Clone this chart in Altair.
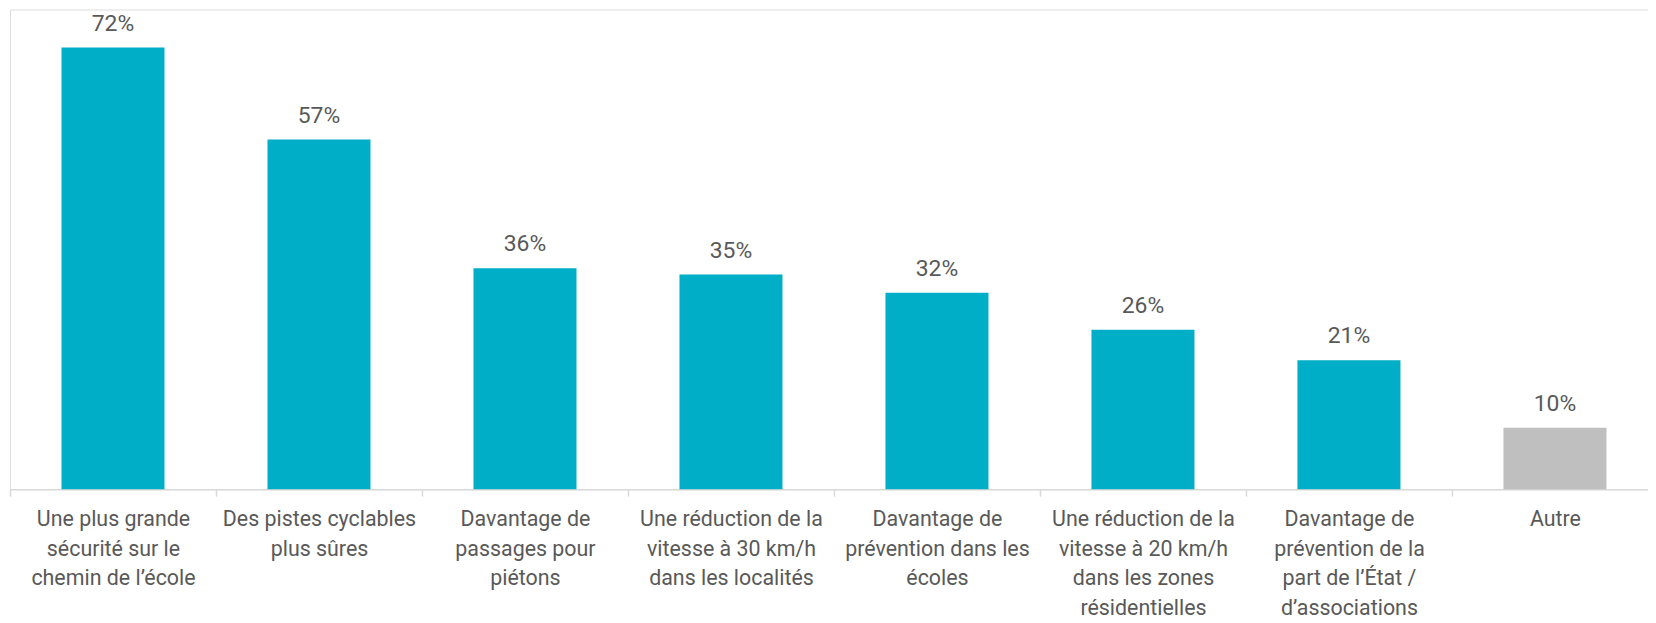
import altair as alt
import pandas as pd

categories = [
    "Une plus grande|sécurité sur le|chemin de l’école",
    "Des pistes cyclables|plus sûres",
    "Davantage de|passages pour|piétons",
    "Une réduction de la|vitesse à 30 km/h|dans les localités",
    "Davantage de|prévention dans les|écoles",
    "Une réduction de la|vitesse à 20 km/h|dans les zones|résidentielles",
    "Davantage de|prévention de la|part de l’État /|d’associations",
    "Autre",
]
values = [72, 57, 36, 35, 32, 26, 21, 10]
groups = ["main", "main", "main", "main", "main", "main", "main", "other"]

df = pd.DataFrame({"cat": categories, "v": values, "g": groups})

FONT = "Roboto"

x = alt.X(
    "cat:N",
    sort=None,
    scale=alt.Scale(paddingInner=0, paddingOuter=0, range=[0, 1656]),
    axis=alt.Axis(
        title=None,
        labelAngle=0,
        tickBand="extent",
        labelExpr="split(datum.label, '|')",
        labelFont=FONT,
        labelFontSize=21.5,
        labelColor="#595959",
        labelLineHeight=29.5,
        labelPadding=13,
        labelLimit=0,
        labelOverlap=False,
        labelBound=False,
        domainColor="#D9D9D9",
        domainWidth=1.5,
        tickColor="#D9D9D9",
        tickWidth=1.5,
        tickSize=7,
    ),
)
y = alt.Y("v:Q", scale=alt.Scale(domain=[0, 78.2]), axis=None)

base = alt.Chart(df).encode(x=x, y=y)

bars = base.mark_bar(width={"band": 0.5}).encode(
    color=alt.Color(
        "g:N",
        scale=alt.Scale(domain=["main", "other"], range=["#00AEC7", "#BFBFBF"]),
        legend=None,
    )
)

labels = base.transform_calculate(lab="datum.v + '%'").mark_text(
    baseline="alphabetic", dy=-17, font=FONT, fontSize=23, color="#595959"
).encode(text="lab:N")

chart = (
    (bars + labels)
    .properties(
        width=1646,
        height=482,
        autosize=alt.AutoSizeParams(type="none"),
        padding={"left": 2, "top": 0, "right": 0, "bottom": 133},
    )
    .configure_view(stroke=None)
    .configure(background="white")
)

chart.save("out.html", embed_options={"renderer": "svg", "actions": False})
